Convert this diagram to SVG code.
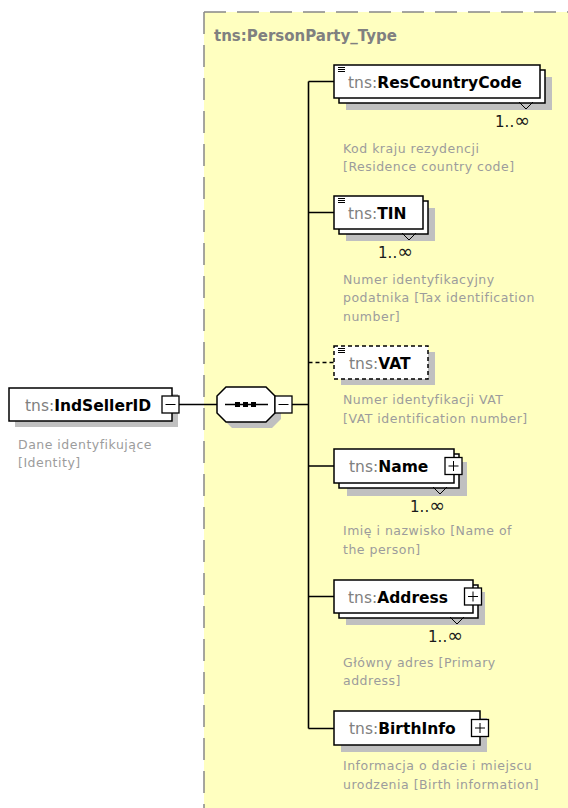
<svg xmlns="http://www.w3.org/2000/svg" width="568" height="808" viewBox="0 0 568 808">
<style>
text{font-family:"DejaVu Sans",Verdana,sans-serif}
.lbl{font-size:15.5px;fill:#000}
.ns{fill:#808080;font-weight:normal}
.b{font-weight:bold}
.desc{font-size:12.5px;fill:#9c9c9c;letter-spacing:0.5px}
.occ{font-size:15px;fill:#1a1a1a;text-anchor:end}
.inf{font-size:19px}
.box{fill:#fff;stroke:#000;stroke-width:1.5}
.dbox{fill:#fff;stroke:#000;stroke-width:1.5;stroke-dasharray:4 3}
.sh{fill:#c0c0c0}
.ln{stroke:#000;stroke-width:1.6;fill:none}
.ic{stroke:#000;stroke-width:1;fill:none}
.pm{fill:#fff;stroke:#000;stroke-width:1.3}
</style>
<defs>
<g id="plus"><rect class="pm" x="0" y="0" width="17" height="17"/><path class="ic" d="M3.5 8.5H13.5M8.5 3.5V13.5" stroke-width="1.3"/></g>
<g id="minus"><rect class="pm" x="0" y="0" width="17" height="17"/><path class="ic" d="M3.5 8.5H13.5" stroke-width="1.3"/></g>
<g id="st"><path class="ic" d="M0 0.5H7M0 2.5H7M0 4.5H7"/></g>
</defs>

<g id="type-area">
<rect x="204" y="12" width="364" height="796" fill="#ffffc0"/>
<path d="M204 12H568M204 12V808" stroke="#888" stroke-width="1.5" stroke-dasharray="22 11" fill="none"/>
<text x="214" y="41" font-size="15px" font-weight="bold" fill="#808080">tns:PersonParty_Type</text>
</g>

<g id="connectors">
<path class="ln" d="M179 404.5H217M292 404.5H308.5M308.5 81.5V728.5M308.5 81.5H334M308.5 212.5H334M308.5 466H334M308.5 596.5H334M308.5 728.5H334"/>
<path class="ln" d="M308.5 362.5H334" stroke-dasharray="4 3"/>
</g>

<g id="IndSellerID">
<rect class="sh" x="15" y="394" width="163" height="33"/>
<rect class="box" x="9" y="388" width="163" height="33"/>
<text class="lbl" x="25" y="410.5"><tspan class="ns">tns:</tspan><tspan class="b">IndSellerID</tspan></text>
<use href="#minus" x="162" y="396"/>
<text class="desc" x="18" y="448.5">Dane identyfikujące</text>
<text class="desc" x="18" y="467">[Identity]</text>
</g>

<g id="sequence">
<polygon class="sh" points="232,393 272,393 281,402 281,419 272,428 232,428 223,419 223,402"/>
<polygon class="box" points="226,387 266,387 275,396 275,413 266,422 226,422 217,413 217,396"/>
<path class="ln" d="M225 404.5H268"/>
<rect x="235" y="402" width="5" height="5" fill="#000"/>
<rect x="243" y="402" width="5" height="5" fill="#000"/>
<rect x="251" y="402" width="5" height="5" fill="#000"/>
<use href="#minus" x="275" y="396"/>
</g>

<g id="ResCountryCode">
<rect class="sh" x="346" y="77" width="206" height="33"/>
<rect class="box" x="339" y="70" width="206" height="33"/>
<rect class="box" x="334" y="65" width="206" height="33"/>
<use href="#st" x="338" y="67"/>
<text class="lbl" x="348" y="88"><tspan class="ns">tns:</tspan><tspan class="b">ResCountryCode</tspan></text>
<polyline class="ic" points="519,102 526,109 533,102"/>
<text class="occ" x="530" y="127">1..<tspan class="inf">∞</tspan></text>
<text class="desc" x="343" y="152.5">Kod kraju rezydencji</text>
<text class="desc" x="343" y="171">[Residence country code]</text>
</g>

<g id="TIN">
<rect class="sh" x="346" y="208" width="89" height="33"/>
<rect class="box" x="339" y="201" width="89" height="33"/>
<rect class="box" x="334" y="196" width="89" height="33"/>
<use href="#st" x="338" y="198"/>
<text class="lbl" x="348" y="219"><tspan class="ns">tns:</tspan><tspan class="b">TIN</tspan></text>
<polyline class="ic" points="402,233 409,240 416,233"/>
<text class="occ" x="413" y="258">1..<tspan class="inf">∞</tspan></text>
<text class="desc" x="343" y="283.5">Numer identyfikacyjny</text>
<text class="desc" x="343" y="302">podatnika [Tax identification</text>
<text class="desc" x="343" y="320.5">number]</text>
</g>

<g id="VAT">
<rect class="sh" x="341" y="352" width="94" height="33"/>
<rect class="dbox" x="334" y="346" width="94" height="33"/>
<use href="#st" x="338" y="348"/>
<text class="lbl" x="349" y="368.5"><tspan class="ns">tns:</tspan><tspan class="b">VAT</tspan></text>
<text class="desc" x="343" y="404">Numer identyfikacji VAT</text>
<text class="desc" x="343" y="422.5">[VAT identification number]</text>
</g>

<g id="Name">
<rect class="sh" x="347" y="462" width="120" height="34"/>
<rect class="box" x="339" y="454" width="120" height="34"/>
<rect class="box" x="334" y="449" width="120" height="34"/>
<text class="lbl" x="349" y="472"><tspan class="ns">tns:</tspan><tspan class="b">Name</tspan></text>
<use href="#plus" x="445" y="457.5"/>
<polyline class="ic" points="433,487 440,494 447,487"/>
<text class="occ" x="445" y="512">1..<tspan class="inf">∞</tspan></text>
<text class="desc" x="343" y="535">Imię i nazwisko [Name of</text>
<text class="desc" x="343" y="553.5">the person]</text>
</g>

<g id="Address">
<rect class="sh" x="346" y="592" width="139" height="33"/>
<rect class="box" x="339" y="585" width="139" height="33"/>
<rect class="box" x="334" y="580" width="139" height="33"/>
<text class="lbl" x="348" y="602.5"><tspan class="ns">tns:</tspan><tspan class="b">Address</tspan></text>
<use href="#plus" x="464.5" y="588"/>
<polyline class="ic" points="450,617 457,624 464,617"/>
<text class="occ" x="463" y="642">1..<tspan class="inf">∞</tspan></text>
<text class="desc" x="343" y="666.5">Główny adres [Primary</text>
<text class="desc" x="343" y="685">address]</text>
</g>

<g id="BirthInfo">
<rect class="sh" x="341" y="718" width="146" height="34"/>
<rect class="box" x="334" y="711" width="146" height="34"/>
<text class="lbl" x="349" y="734"><tspan class="ns">tns:</tspan><tspan class="b">BirthInfo</tspan></text>
<use href="#plus" x="471.5" y="719.5"/>
<text class="desc" x="343" y="770">Informacja o dacie i miejscu</text>
<text class="desc" x="343" y="788.5">urodzenia [Birth information]</text>
</g>
</svg>
